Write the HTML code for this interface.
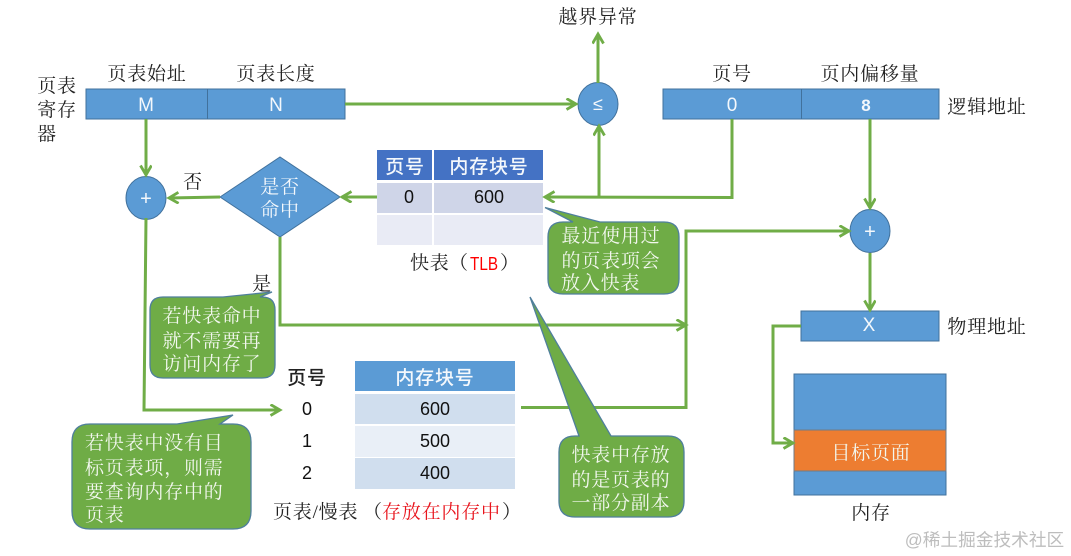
<!DOCTYPE html>
<html><head><meta charset="utf-8">
<style>
html,body{margin:0;padding:0;background:#fff}
svg{display:block}
text{font-family:"Liberation Serif","Noto Serif CJK SC",serif;font-size:19px;fill:#222;letter-spacing:.8px;text-anchor:middle}
.s{font-family:"Liberation Sans","Noto Sans CJK SC",sans-serif}
.w{fill:#f2f7ee}
.b{fill:#f4f8fc}
.l{fill:none;stroke:#70ad47;stroke-width:3}
.n{font-family:"Liberation Sans",sans-serif;font-size:18px;letter-spacing:0;fill:#111}
.c{fill:#6fac46;stroke:#4f7f9c;stroke-width:1.3}
.box{fill:#5b9bd5;stroke:#41719c;stroke-width:1}
.st{text-anchor:start}
</style></head><body>
<svg width="1071" height="556" viewBox="0 0 1071 556" xmlns="http://www.w3.org/2000/svg">
<defs><marker id="a" markerWidth="14" markerHeight="14" refX="10.500" refY="6" orient="auto" markerUnits="userSpaceOnUse"><path d="M1 .5L10.500 6L1 11.500" fill="none" stroke="#70ad47" stroke-width="2.800"/></marker></defs>

<!-- boxes -->
<rect class="box" x="86" y="89" width="259" height="30"/>
<line x1="207.500" y1="89" x2="207.500" y2="119" stroke="#41719c"/>
<rect class="box" x="663" y="89" width="276" height="30"/>
<line x1="801.500" y1="89" x2="801.500" y2="119" stroke="#41719c"/>
<rect class="box" x="801" y="311" width="138" height="30"/>
<rect class="box" x="794" y="374" width="152" height="121"/>
<rect x="794" y="430" width="152" height="41" fill="#ed7d31" stroke="#6f7b88" stroke-width="1"/>
<ellipse class="box" cx="598" cy="104" rx="20" ry="21.500"/>
<ellipse class="box" cx="146" cy="198" rx="20" ry="21.500"/>
<ellipse class="box" cx="870" cy="231" rx="20" ry="21.500"/>
<polygon class="box" points="220,197 280,157 340,197 280,237"/>

<!-- TLB table -->
<rect x="377" y="150" width="55" height="30" fill="#4472c4"/><rect x="434" y="150" width="109" height="30" fill="#4472c4"/>
<rect x="377" y="183" width="55" height="30" fill="#cfd5e8"/><rect x="434" y="183" width="109" height="30" fill="#cfd5e8"/>
<rect x="377" y="215" width="55" height="30" fill="#e9ebf5"/><rect x="434" y="215" width="109" height="30" fill="#e9ebf5"/>

<!-- page table -->
<rect x="355" y="361" width="160" height="30" fill="#5b9bd5"/>
<rect x="355" y="394" width="160" height="30" fill="#d0deee"/>
<rect x="355" y="426" width="160" height="31" fill="#e9eff7"/>
<rect x="355" y="458" width="160" height="31" fill="#d0deee"/>

<!-- connectors -->
<path class="l" d="M146 119V175" marker-end="url(#a)"/>
<path class="l" d="M220 197L169 198" marker-end="url(#a)"/>
<path class="l" d="M146 218L144 410H280" marker-end="url(#a)"/>
<path class="l" d="M345 104H576" marker-end="url(#a)"/>
<path class="l" d="M598 83V34" marker-end="url(#a)"/>
<path class="l" d="M732 119V197.500L545 197" marker-end="url(#a)"/>
<path class="l" d="M599 197V126" marker-end="url(#a)"/>
<path class="l" d="M377 197H342" marker-end="url(#a)"/>
<path class="l" d="M280 237V325H686" marker-end="url(#a)"/>
<path class="l" d="M521 407.500H686V231H849" marker-end="url(#a)"/>
<path class="l" d="M870 119V208" marker-end="url(#a)"/>
<path class="l" d="M870 253V310" marker-end="url(#a)"/>
<path class="l" d="M801 326H773V443H793" marker-end="url(#a)"/>

<!-- callouts -->
<path class="c" d="M600 222H664Q679 222 679 237V279Q679 294 664 294H563Q548 294 548 279V237Q548 222 563 222H573L545 207.500Z"/>
<path class="c" d="M223 297L272 292L260 297H262Q275 297 275 310V365Q275 378 262 378H163Q150 378 150 365V310Q150 297 163 297Z"/>
<path class="c" d="M90 424H177L233 415L220 424H233Q251 424 251 442V511Q251 529 233 529H90Q72 529 72 511V442Q72 424 90 424Z"/>
<path class="c" d="M579 436L530 297L611 436H668Q684 436 684 452V501Q684 517 668 517H575Q559 517 559 501V452Q559 436 575 436Z"/>

<!-- labels -->
<text x="598" y="23">越界异常</text>
<text x="147" y="80">页表始址</text>
<text x="276" y="80">页表长度</text>
<text x="57" y="92">页表</text>
<text x="57" y="116">寄存</text>
<text x="47" y="140">器</text>
<text x="732" y="80">页号</text>
<text x="870" y="80">页内偏移量</text>
<text x="987" y="113">逻辑地址</text>
<text x="987" y="333">物理地址</text>
<text x="193" y="188">否</text>
<text x="262" y="290">是</text>
<text x="871" y="519">内存</text>

<text class="s b" x="146" y="111" style="font-size:19px;letter-spacing:0">M</text>
<text class="s b" x="276" y="111" style="font-size:19px;letter-spacing:0">N</text>
<text class="s b" x="732" y="111" style="font-size:19px;letter-spacing:0">0</text>
<text class="s b" x="866" y="111" style="font-size:17px;letter-spacing:0;font-weight:700">8</text>
<text class="s b" x="869" y="331" style="font-size:19px;letter-spacing:0">X</text>
<text class="s b" x="598" y="110" style="font-size:18px;letter-spacing:0">≤</text>
<text class="s b" x="146" y="205" style="font-size:20px;letter-spacing:0">+</text>
<text class="s b" x="870" y="238" style="font-size:20px;letter-spacing:0">+</text>

<text class="b" x="280" y="193">是否</text>
<text class="b" x="280" y="216">命中</text>

<text class="s b" x="405" y="173" style="font-weight:500;font-size:19px">页号</text>
<text class="s b" x="489" y="173" style="font-weight:500;font-size:19px">内存块号</text>
<text class="n" x="409" y="203">0</text>
<text class="n" x="489" y="203">600</text>
<text class="st" x="410" y="269">快表</text>
<text class="st" x="449" y="269">（</text>
<text class="s st" x="470" y="270" textLength="28" lengthAdjust="spacingAndGlyphs" style="fill:#f00;font-size:18px;letter-spacing:0">TLB</text>
<text class="st" x="500" y="269">）</text>

<text class="s" x="307" y="384" style="font-weight:500;font-size:19px">页号</text>
<text class="n" x="307" y="415">0</text>
<text class="n" x="307" y="447">1</text>
<text class="n" x="307" y="479">2</text>
<text class="s b" x="435" y="384" style="font-weight:500;font-size:19px">内存块号</text>
<text class="n" x="435" y="415">600</text>
<text class="n" x="435" y="447">500</text>
<text class="n" x="435" y="479">400</text>
<text class="st" x="273" y="518">页表/慢表</text>
<text class="st" x="363" y="518">（</text>
<text class="st" x="382" y="518" style="fill:#e8141c">存放在内存中</text>
<text class="st" x="502" y="518">）</text>

<text class="w" x="611" y="242">最近使用过</text>
<text class="w" x="611" y="267">的页表项会</text>
<text class="w st" x="561" y="289">放入快表</text>

<text class="w" x="212" y="322">若快表命中</text>
<text class="w" x="212" y="347">就不需要再</text>
<text class="w" x="212" y="370">访问内存了</text>

<text class="w st" x="85" y="449">若快表中没有目</text>
<text class="w st" x="85" y="474">标页表项，则需</text>
<text class="w st" x="85" y="498">要查询内存中的</text>
<text class="w st" x="85" y="521">页表</text>

<text class="w" x="621" y="461">快表中存放</text>
<text class="w" x="621" y="486">的是页表的</text>
<text class="w" x="621" y="509">一部分副本</text>

<text class="w" x="871" y="459">目标页面</text>

<text class="s" x="984.500" y="546" style="fill:#bdbdbd;font-size:17.700px;letter-spacing:0">@稀土掘金技术社区</text>
</svg>
</body></html>
